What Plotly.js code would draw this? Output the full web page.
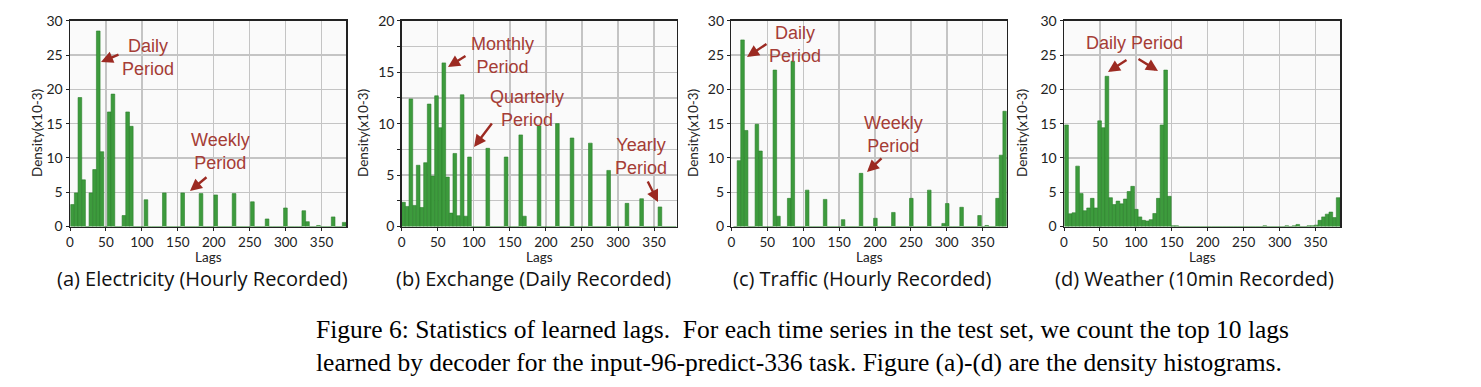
<!DOCTYPE html>
<html>
<head>
<meta charset="utf-8">
<script src="https://cdn.plot.ly/plotly-3.0.1.min.js"></script>
<style>html,body{margin:0;padding:0;background:#fff;}#chart{width:1481px;height:387px;}</style>
</head>
<body>
<div id="chart"></div>
<script>
// ---------------- DATA (density x10^-3 per lag bin) ----------------
// (a) Electricity: 75 bins covering lags 1..384
const elecBinStart = 1;
const elecBinWidth = 383 / 75;
const elecDensity = [
  3.2, 4.9, 18.8, 6.8, 0, 4.9, 8.3, 28.5, 10.9, 0,
  16.7, 19.3, 0, 0, 1.6, 16.7, 14.6, 0, 0, 0,
  3.9, 0, 0, 0, 0, 4.9, 0, 0, 0, 0,
  4.9, 0, 0, 0, 0, 4.8, 0, 0, 0, 4.6,
  0, 0, 0, 0, 4.8, 0, 0, 0, 0, 3.6,
  0, 0, 0, 1.1, 0, 0, 0, 0, 2.7, 0,
  0, 0, 0, 2.3, 0.7, 0, 0, 0.15, 0, 0,
  0, 1.4, 0, 0, 0.6
];
// (b) Exchange: 75 bins covering lags 0..381
const exchBinStart = 0;
const exchBinWidth = 5.08;
const exchDensity = [
  2.35, 1.95, 12.4, 2.05, 5.95, 1.85, 6.2, 11.9, 4.9, 12.7,
  9.6, 15.9, 4.8, 1.3, 7.1, 1.05, 12.8, 1.0, 6.75, 0,
  0, 0, 0, 7.6, 0, 0, 0, 0, 6.75, 0,
  0, 0, 8.9, 1.0, 0, 0, 0, 9.8, 0, 0,
  0, 0, 10.0, 0, 0, 0, 8.6, 0, 0, 0,
  0, 8.1, 0, 0, 0, 0, 5.45, 0, 0, 0,
  0, 2.25, 0, 0, 0, 2.7, 0, 0, 0, 0,
  1.9, 0, 0, 0, 0
];
// (c) Traffic: 76 bins covering lags 3..383
const trafBinStart = 3;
const trafBinWidth = 5;
const trafDensity = [
  0, 9.6, 27.2, 14.0, 0, 0, 14.9, 11.0, 0, 0,
  0, 22.8, 1.5, 0, 0, 4.1, 24.1, 0, 0, 0,
  5.3, 0, 0, 0, 0, 3.95, 0, 0, 0, 0,
  1.0, 0, 0, 0, 0, 7.75, 0, 0, 0, 1.2,
  0, 0, 0, 0, 2.05, 0, 0, 0, 0, 4.1,
  0, 0, 0, 0, 5.3, 0, 0, 0, 0.45, 3.35,
  0, 0, 0, 2.8, 0, 0, 0, 0, 1.6, 0,
  0.15, 0, 0, 4.1, 10.4, 16.8
];
// (d) Weather: 75 bins covering lags 1..384
const weatBinStart = 1;
const weatBinWidth = 383 / 75;
const weatDensity = [
  14.8, 1.85, 2.0, 8.8, 4.8, 2.3, 2.7, 4.1, 2.7, 15.4,
  14.4, 21.9, 4.2, 3.2, 3.7, 3.3, 4.0, 5.1, 5.85, 2.5,
  1.4, 0.9, 0.8, 1.0, 1.9, 4.1, 14.8, 22.8, 4.4, 0.1,
  0.1, 0, 0, 0, 0, 0, 0, 0, 0, 0,
  0, 0, 0, 0, 0, 0, 0, 0, 0, 0,
  0, 0, 0, 0, 0.1, 0, 0, 0, 0, 0,
  0.1, 0, 0.1, 0.3, 0, 0, 0.1, 0.1, 0.2, 0.9,
  1.4, 1.8, 2.1, 1.3, 4.2
];
const subCaptions = [
  "(a) Electricity (Hourly Recorded)",
  "(b) Exchange (Daily Recorded)",
  "(c) Traffic (Hourly Recorded)",
  "(d) Weather (10min Recorded)"
];
const xTicks = [0, 50, 100, 150, 200, 250, 300, 350];
const yTitle = "Density(x10-3)";
const xTitle = "Lags";
const captionLines = [
  "Figure 6: Statistics of learned lags.  For each time series in the test set, we count the top 10 lags",
  "learned by decoder for the input-96-predict-336 task. Figure (a)-(d) are the density histograms."
];

// ---------------- LAYOUT ----------------
const W = 1481, H = 387;
const px = x => x / W;
const py = y => 1 - y / H;
const PLOT_TOP = 20.7, PLOT_BOT = 226.5;

const panels = [
  {dens: elecDensity, start: elecBinStart, w: elecBinWidth, xmax: 384, ymax: 30, minor: false, box: [70, 346], ytx: 37, capx: 202},
  {dens: exchDensity, start: exchBinStart, w: exchBinWidth, xmax: 381.4, ymax: 20, minor: true, box: [401.7, 676.7], ytx: 363, capx: 533},
  {dens: trafDensity, start: trafBinStart, w: trafBinWidth, xmax: 383.3, ymax: 30, minor: false, box: [731.4, 1006.7], ytx: 693, capx: 863},
  {dens: weatDensity, start: weatBinStart, w: weatBinWidth, xmax: 384, ymax: 30, minor: false, box: [1064, 1340], ytx: 1022, capx: 1194}
];

const GREEN = '#3d9b3d';
const RED_TXT = '#a53d36';
const RED_ARR = '#9c2a22';
const LABEL_FONT = 'Lato, "Open Sans", sans-serif';
const CAP_FONT = '"Open Sans", Lato, sans-serif';

const traces = [];
const layout = {
  width: W, height: H,
  margin: {l: 0, r: 0, t: 0, b: 0},
  paper_bgcolor: '#ffffff',
  plot_bgcolor: '#fafafa',
  showlegend: false,
  bargap: 0,
  annotations: []
};

panels.forEach((p, i) => {
  const n = i === 0 ? '' : String(i + 1);
  const xs = p.dens.map((_, k) => p.start + p.w * (k + 0.5));
  traces.push({
    type: 'bar', x: xs, y: p.dens, width: p.w,
    xaxis: 'x' + n, yaxis: 'y' + n,
    marker: {color: GREEN, line: {color: '#2b802b', width: 0.6}},
    hoverinfo: 'skip'
  });
  layout['xaxis' + n] = {
    domain: [px(p.box[0]), px(p.box[1])],
    anchor: 'y' + n,
    range: [0, p.xmax],
    tickvals: xTicks,
    ticks: 'outside', ticklen: 3, tickwidth: 1, tickcolor: '#222',
    showline: true, mirror: true, linecolor: '#222', linewidth: 1.5,
    showgrid: true, gridcolor: '#c4c4c4', gridwidth: 1.3,
    zeroline: false,
    tickfont: {family: LABEL_FONT, size: 13.5, color: '#222'},
    fixedrange: true
  };
  const ya = {
    domain: [py(PLOT_BOT), py(PLOT_TOP)],
    anchor: 'x' + n,
    range: [0, p.ymax],
    dtick: 5, tick0: 0,
    ticks: 'outside', ticklen: 3, tickwidth: 1, tickcolor: '#222',
    showline: true, mirror: true, linecolor: '#222', linewidth: 1.5,
    showgrid: true, gridcolor: '#c4c4c4', gridwidth: 1.3,
    zeroline: false,
    tickfont: {family: LABEL_FONT, size: 14, color: '#222'},
    fixedrange: true
  };
  if (p.minor) {
    ya.minor = {dtick: 2.5, showgrid: true, gridcolor: '#c4c4c4', gridwidth: 1.3, ticks: 'outside', ticklen: 3, tickcolor: '#222'};
  }
  layout['yaxis' + n] = ya;

  const cx = (p.box[0] + p.box[1]) / 2;
  layout.annotations.push(
    {xref: 'paper', yref: 'paper', x: px(cx), y: py(256.5), text: xTitle, showarrow: false,
     xanchor: 'center', yanchor: 'middle', font: {family: LABEL_FONT, size: 13.5, color: '#222'}},
    {xref: 'paper', yref: 'paper', x: px(p.capx), y: py(278), text: subCaptions[i], showarrow: false,
     xanchor: 'center', yanchor: 'middle', font: {family: CAP_FONT, size: 20, color: '#111'}},
    {xref: 'paper', yref: 'paper', x: px(p.ytx), y: py(133), text: yTitle, showarrow: false, textangle: -90,
     xanchor: 'center', yanchor: 'middle', font: {family: LABEL_FONT, size: 13.5, color: '#222'}}
  );
});

// red period labels
const labels = [
  {x: 148, y: 57, t: 'Daily<br>Period'},
  {x: 220, y: 152, t: 'Weekly<br>Period'},
  {x: 503, y: 56, t: 'Monthly<br>Period'},
  {x: 527, y: 108, t: 'Quarterly<br>Period'},
  {x: 641, y: 156, t: 'Yearly<br>Period'},
  {x: 795, y: 45, t: 'Daily<br>Period'},
  {x: 893, y: 134, t: 'Weekly<br>Period'},
  {x: 1134, y: 43, t: 'Daily Period'}
];
labels.forEach(l => layout.annotations.push({
  xref: 'paper', yref: 'paper', x: px(l.x), y: py(l.y), text: l.t, showarrow: false,
  xanchor: 'center', yanchor: 'middle', align: 'center',
  font: {family: 'Liberation Sans, Arial, sans-serif', size: 18, color: RED_TXT}
}));
// arrows: tail (x0,y0) -> head (x1,y1) in page pixels
const arrows = [
  [120, 54, 101, 62],
  [208, 176, 190, 191],
  [467, 55, 448, 67],
  [493, 122, 474, 147],
  [647, 180, 658, 202],
  [768, 43, 747, 57],
  [883, 157, 867, 172],
  [1128, 59, 1108, 72],
  [1137, 58, 1158, 71]
];
arrows.forEach(a => layout.annotations.push({
  xref: 'paper', yref: 'paper', x: px(a[2]), y: py(a[3]), ax: a[0] - a[2], ay: a[1] - a[3],
  text: '', showarrow: true, arrowhead: 2, arrowsize: 1, arrowwidth: 2.4, arrowcolor: RED_ARR
}));

// figure caption
captionLines.forEach((line, j) => layout.annotations.push({
  xref: 'paper', yref: 'paper', x: px(314), y: py(329 + 33 * j), text: line, showarrow: false,
  xanchor: 'left', yanchor: 'middle', font: {family: '"Liberation Serif", "Times New Roman", serif', size: 25.5, color: '#000'}
}));

Plotly.newPlot('chart', traces, layout, {staticPlot: true, displayModeBar: false});
</script>
</body>
</html>
